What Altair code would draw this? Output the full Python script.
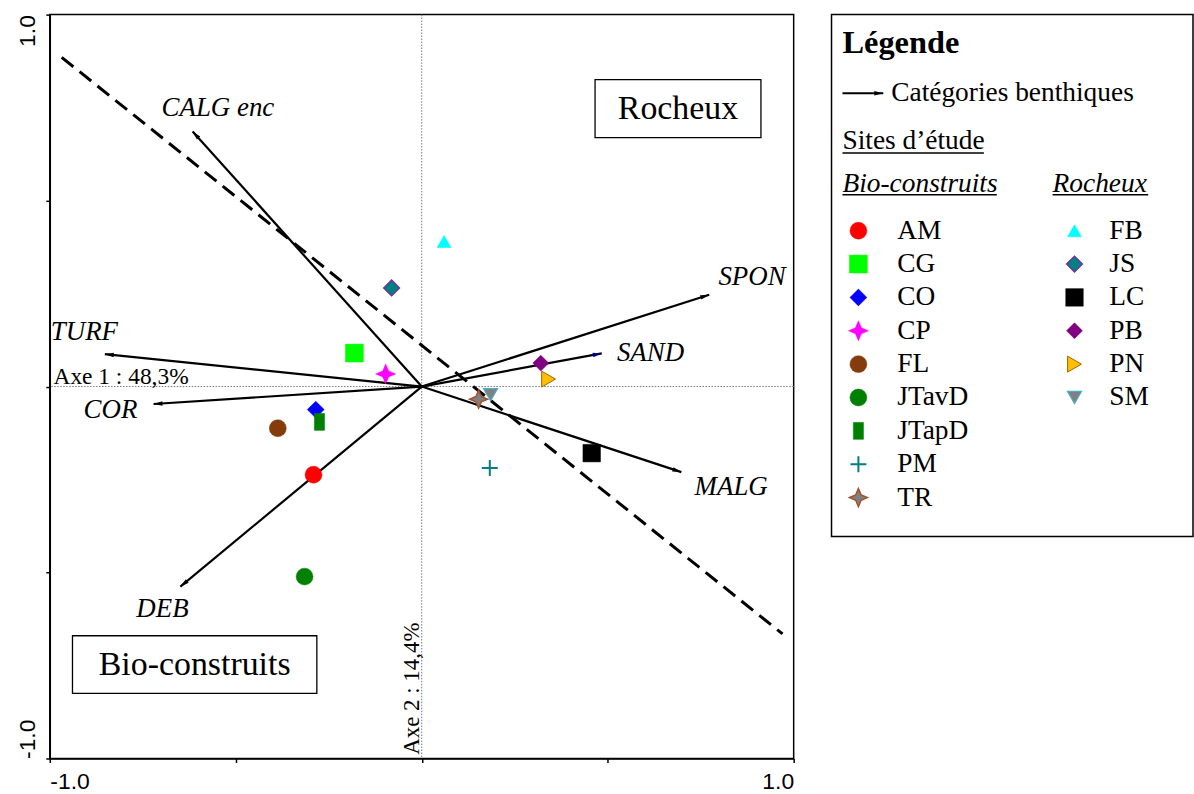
import math

import altair as alt
import pandas as pd

# ---------------------------------------------------------------------------
# Sites d'étude : coordonnées sur les axes 1 et 2
sites = ["AM", "CG", "CO", "CP", "FL", "JTavD", "JTapD", "PM", "TR",
         "FB", "JS", "LC", "PB", "PN", "SM"]
site_group = ["Bio-construits"] * 9 + ["Rocheux"] * 6
site_x = [-0.291, -0.181, -0.285, -0.097, -0.387, -0.315, -0.275, 0.183, 0.153,
          0.060, -0.081, 0.457, 0.320, 0.341, 0.185]
site_y = [-0.237, 0.090, -0.062, 0.034, -0.112, -0.511, -0.095, -0.219, -0.034,
          0.390, 0.265, -0.179, 0.063, 0.020, -0.022]

# Catégories benthiques : extrémités des flèches et position des étiquettes
cats = ["CALG enc", "TURF", "COR", "DEB", "SPON", "SAND", "MALG"]
cat_x = [-0.616, -0.852, -0.721, -0.649, 0.773, 0.484, 0.698]
cat_y = [0.686, 0.087, -0.047, -0.538, 0.247, 0.089, -0.230]
cat_lx = [-0.548, -0.907, -0.837, -0.697, 0.888, 0.615, 0.832]
cat_ly = [0.749, 0.146, -0.062, -0.598, 0.295, 0.089, -0.271]

# Droite de séparation (tirets)
sep_x = [-0.968, 0.970]
sep_y = [0.885, -0.665]

# Encadrés des deux types d'habitat
box_labels = ["Rocheux", "Bio-construits"]
box_x1 = [0.466, -0.939]
box_x2 = [0.912, -0.282]
box_y1 = [0.825, -0.670]
box_y2 = [0.669, -0.825]

# Inertie des axes
axis_texts = ["Axe 1 : 48,3%", "Axe 2 : 14,4%"]
tick_values = [-1.0, -0.5, 0.0, 0.5, 1.0]

# ---------------------------------------------------------------------------
SERIF = "Liberation Serif"
SANS = "Liberation Sans"

STAR = "M0,-1 L0.3,-0.3 L1,0 L0.3,0.3 L0,1 L-0.3,0.3 L-1,0 L-0.3,-0.3 Z"
BAR = "M-0.6,-1 L0.6,-1 L0.6,1 L-0.6,1 Z"
PLUS = "M-1,0 L1,0 M0,-1 L0,1"
HEAD = "M0,0 L-0.5,2 L0.5,2 Z"

# symbole, remplissage, contour, taille, épaisseur du contour
style = {
    "AM": ("circle", "#ff0000", "#ff0000", 289, 0.5),
    "CG": ("square", "#00ff00", "#00ff00", 324, 0.5),
    "CO": ("diamond", "#0000ff", "#0000ff", 289, 0.5),
    "CP": (STAR, "#ff00ff", "#ff00ff", 400, 0.5),
    "FL": ("circle", "#843c0c", "#843c0c", 289, 0.5),
    "JTavD": ("circle", "#008000", "#008000", 289, 0.5),
    "JTapD": (BAR, "#008000", "#008000", 289, 0.5),
    "PM": (PLUS, "transparent", "#008080", 256, 2.0),
    "TR": (STAR, "#808080", "#a0522d", 324, 1.5),
    "FB": ("triangle-up", "#00ffff", "#00ffff", 196, 0.5),
    "JS": ("diamond", "#008080", "#7030a0", 256, 1.3),
    "LC": ("square", "#000000", "#000000", 310, 0.5),
    "PB": ("diamond", "#800080", "#800080", 256, 0.5),
    "PN": ("triangle-right", "#ffc000", "#b05a00", 256, 1.0),
    "SM": ("triangle-down", "#808080", "#4bacc6", 196, 1.3),
}


def site_symbols(base):
    def sc(i):
        return alt.Scale(type="ordinal", domain=sites, range=[style[s][i] for s in sites])
    return base.mark_point(filled=True, opacity=1).encode(
        shape=alt.Shape("site:N", scale=sc(0), legend=None),
        fill=alt.Fill("site:N", scale=sc(1), legend=None),
        stroke=alt.Stroke("site:N", scale=sc(2), legend=None),
        size=alt.Size("site:N", scale=sc(3), legend=None),
        strokeWidth=alt.StrokeWidth("site:N", scale=sc(4), legend=None),
    )


# ---------------------------------------------------------------------------
# Panneau principal : plan factoriel 1-2
xs = alt.Scale(domain=[-1, 1], nice=False, zero=False)
ys = alt.Scale(domain=[-1, 1], nice=False, zero=False)

common_axis = dict(
    values=tick_values, title=None, grid=False, tickSize=4, tickWidth=1.5,
    tickColor="black", domainColor="black", domainWidth=1.5,
    labelFont=SANS, labelFontSize=23, labelColor="black",
    labelExpr="datum.value == -1 ? '-1.0' : (datum.value == 1 ? '1.0' : '')",
)
ax_x = alt.Axis(labelFlush=True, labelPadding=8, **common_axis)
ax_y = alt.Axis(
    labelAngle=270, labelFlush=False, labelPadding=6, labelBaseline="bottom",
    labelAlign={"condition": {"test": "datum.value > 0", "value": "right"}, "value": "left"},
    **common_axis,
)


def X(f):
    return alt.X(f, type="quantitative", scale=xs, axis=ax_x)


def Y(f):
    return alt.Y(f, type="quantitative", scale=ys, axis=ax_y)


site_df = pd.DataFrame({"site": sites, "groupe": site_group, "x": site_x, "y": site_y})
cat_df = pd.DataFrame({"cat": cats, "x0": 0.0, "y0": 0.0, "x": cat_x, "y": cat_y,
                       "lx": cat_lx, "ly": cat_ly})
cat_df["ang"] = [(math.degrees(math.atan2(a, b)) + 360) % 360 for a, b in zip(cat_x, cat_y)]
sep_df = pd.DataFrame({"x": [sep_x[0]], "y": [sep_y[0]], "x2": [sep_x[1]], "y2": [sep_y[1]]})
box_df = pd.DataFrame({"label": box_labels, "x": box_x1, "x2": box_x2, "y": box_y1, "y2": box_y2})
box_df["cx"] = (box_df["x"] + box_df["x2"]) / 2
box_df["cy"] = (box_df["y"] + box_df["y2"]) / 2
zero_df = pd.DataFrame({"v": [0.0]})
ax1_df = pd.DataFrame({"t": [axis_texts[0]], "x": [-0.99], "y": [0.0]})
ax2_df = pd.DataFrame({"t": [axis_texts[1]], "x": [0.0], "y": [-0.99]})

dotted = dict(strokeDash=[1.5, 1.5], color="#777777", strokeWidth=1)
vzero = alt.Chart(zero_df).mark_rule(**dotted).encode(x=X("v"))
hzero = alt.Chart(zero_df).mark_rule(**dotted).encode(y=Y("v"))

sep_line = alt.Chart(sep_df).mark_rule(
    color="black", strokeWidth=3, strokeDash=[15, 8]
).encode(x=X("x"), y=Y("y"), x2="x2:Q", y2="y2:Q")

shafts = alt.Chart(cat_df).mark_rule(color="black", strokeWidth=2.2).encode(
    x=X("x0"), y=Y("y0"), x2="x:Q", y2="y:Q")
heads = alt.Chart(cat_df).mark_point(
    shape=HEAD, filled=True, size=81, opacity=1
).encode(
    x=X("x"), y=Y("y"), angle=alt.Angle("ang:Q", scale=None),
    color=alt.condition(alt.datum.cat == "SAND", alt.value("#000080"), alt.value("black")),
)
cat_labels = alt.Chart(cat_df).mark_text(
    font=SERIF, fontSize=27, fontStyle="italic", color="black",
    align="center", baseline="middle",
).encode(x=X("lx"), y=Y("ly"), text="cat:N")

boxes = alt.Chart(box_df).mark_rect(fill="white", stroke="black", strokeWidth=1.3).encode(
    x=X("x"), x2="x2:Q", y=Y("y"), y2="y2:Q")
box_text = alt.Chart(box_df).mark_text(
    font=SERIF, fontSize=34, color="black", align="center", baseline="middle"
).encode(x=X("cx"), y=Y("cy"), text="label:N")

ax1_text = alt.Chart(ax1_df).mark_text(
    font=SERIF, fontSize=23.5, color="black", align="left", baseline="alphabetic", dy=-3
).encode(x=X("x"), y=Y("y"), text="t:N")
ax2_text = alt.Chart(ax2_df).mark_text(
    font=SERIF, fontSize=23, color="black", align="left", baseline="alphabetic",
    angle=270, dy=-3,
).encode(x=X("x"), y=Y("y"), text="t:N")

points = site_symbols(alt.Chart(site_df).encode(x=X("x"), y=Y("y")))

plot = alt.layer(
    vzero, hzero, sep_line, shafts, heads, cat_labels,
    boxes, box_text, ax1_text, ax2_text, points,
).properties(width=747, height=747)

# ---------------------------------------------------------------------------
# Panneau de légende (coordonnées internes en pixels du cadre)
LEG_W, LEG_H = 363, 524
ROW0, ROW_STEP = 217, 33.5
BIO_SYM, BIO_TXT = 27, 66
ROC_SYM, ROC_TXT = 244, 279
LEG_FS = 27.5

lxs = alt.Scale(domain=[0, LEG_W], nice=False, zero=False)
lys = alt.Scale(domain=[0, LEG_H], nice=False, zero=False, reverse=True)


def LX(f):
    return alt.X(f, type="quantitative", scale=lxs, axis=None)


def LY(f):
    return alt.Y(f, type="quantitative", scale=lys, axis=None)


leg_rows = []
counters = {"Bio-construits": 0, "Rocheux": 0}
for s, g in zip(sites, site_group):
    i = counters[g]
    counters[g] += 1
    sx, tx = (BIO_SYM, BIO_TXT) if g == "Bio-construits" else (ROC_SYM, ROC_TXT)
    leg_rows.append({"site": s, "sx": sx, "tx": tx, "ly": ROW0 + ROW_STEP * i})
leg_df = pd.DataFrame(leg_rows)

leg_symbols = site_symbols(alt.Chart(leg_df).encode(x=LX("sx"), y=LY("ly")))
leg_names = alt.Chart(leg_df).mark_text(
    font=SERIF, fontSize=LEG_FS, color="black", align="left", baseline="middle"
).encode(x=LX("tx"), y=LY("ly"), text="site:N")

title_df = pd.DataFrame({"t": ["Légende"], "lx": [11], "ly": [29]})
leg_title = alt.Chart(title_df).mark_text(
    font=SERIF, fontSize=32.5, fontWeight="bold", color="black", align="left", baseline="middle"
).encode(x=LX("lx"), y=LY("ly"), text="t:N")

plain_df = pd.DataFrame({"t": ["Catégories benthiques", "Sites d’étude"],
                         "lx": [60, 11], "ly": [79, 127]})
leg_plain = alt.Chart(plain_df).mark_text(
    font=SERIF, fontSize=LEG_FS, color="black", align="left", baseline="middle"
).encode(x=LX("lx"), y=LY("ly"), text="t:N")

ital_df = pd.DataFrame({"t": ["Bio-construits", "Rocheux"], "lx": [11, 222], "ly": [170, 170]})
leg_ital = alt.Chart(ital_df).mark_text(
    font=SERIF, fontSize=LEG_FS, fontStyle="italic", color="black", align="left", baseline="middle"
).encode(x=LX("lx"), y=LY("ly"), text="t:N")

under_df = pd.DataFrame({"x": [11, 11, 222], "x2": [153, 166, 318], "y": [139, 181, 181]})
leg_under = alt.Chart(under_df).mark_rule(color="black", strokeWidth=1.5).encode(
    x=LX("x"), x2="x2:Q", y=LY("y"))

arrow_df = pd.DataFrame({"x": [11], "x2": [52], "y": [79]})
leg_shaft = alt.Chart(arrow_df).mark_rule(color="black", strokeWidth=2).encode(
    x=LX("x"), x2="x2:Q", y=LY("y"))
leg_head = alt.Chart(arrow_df).mark_point(
    shape=HEAD, filled=True, size=81, angle=90, color="black", opacity=1
).encode(x=LX("x2"), y=LY("y"))

legend = alt.layer(
    leg_shaft, leg_head, leg_title, leg_plain, leg_ital, leg_under, leg_symbols, leg_names
).properties(width=LEG_W, height=LEG_H)

chart = alt.hconcat(plot, legend, spacing=35).resolve_scale(
    x="independent", y="independent"
).properties(
    padding={"left": 16, "top": 11, "right": 0, "bottom": 0},
    background="white",
).configure_view(stroke="black", strokeWidth=1.5)

chart.save("out.html", embed_options={"renderer": "svg", "actions": False})
